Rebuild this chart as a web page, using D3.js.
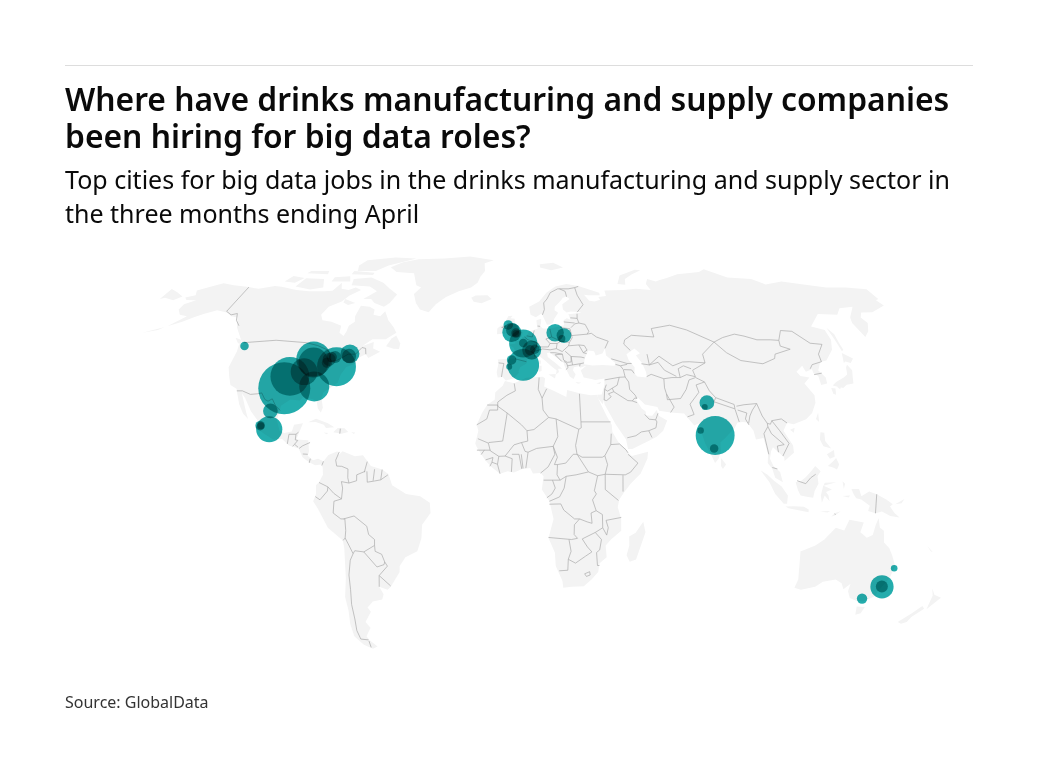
<!DOCTYPE html>
<html>
  <head>
    <meta charset="utf-8">
    <title>Big data jobs map</title>
    <style>
      html, body {
        margin: 0;
        background: #fff;
      }
      svg {
        display: block;
      }
      text {
        font-family: 'Noto Sans', sans-serif;
        fill: #0a0a0a;
      }
      .title {
        font-size: 31.8px;
        font-weight: 600;
      }
      .subtitle {
        font-size: 25px;
      }
      .source {
        font-size: 16px;
        fill: #333;
      }
      .land {
        fill: #f3f3f3;
        stroke: none;
      }
      .water {
        fill: #fff;
        stroke: none;
      }
      .border {
        fill: none;
        stroke: #aaa;
        stroke-width: .7;
      }
      .city {
        fill: #24adad;
        mix-blend-mode: multiply;
      }
    </style>
  </head>
  <body>
    <svg width="1038" height="778"></svg>
    <script src="https://d3js.org/d3.v7.min.js"></script>
    <script>
      const titleLines = [
        'Where have drinks manufacturing and supply companies',
        'been hiring for big data roles?'
      ];
      const subtitleLines = [
        'Top cities for big data jobs in the drinks manufacturing and supply sector in',
        'the three months ending April'
      ];
      const sourceText = 'Source: GlobalData';

      // cities: lon, lat, job count (all estimated off the picture)
      const cityLons = [-121.9, -97.7, -96.8, -89, -88.6, -91.4, -85.4, -78.2, -74, -74.1, -82.8, -81.5, -80, -82.3, -101.1, -100.2, -104.1, -103.8,
        -5, -3.3, -2.9, -1.4, -1.4, 1.9, 1.9, 4.9, 5.6, 7, 1.8, -3.2, -4.2, 16.5, 20.4, 19.3,
        77, 75.8, 78.4, 72.8, 77.5, 153.4, 151.4, 151.3, 145.3];
      const cityLats = [47.8, 33.4, 37.4, 43.3, 42.1, 39, 34, 40.7, 45.1, 44.4, 42.1, 44, 44, 43.2, 25.7, 19.5, 20.7, 20.7,
        55.3, 52.6, 53.5, 52.4, 52.2, 48.7, 48.9, 46.4, 46.4, 46.7, 41.3, 43, 40.7, 52.5, 51.5, 50.4,
        28.5, 27, 17.4, 19.1, 13, -27.7, -34, -33.9, -38];
      const cityJobs = [2, 75, 42, 34, 25, 20, 25, 42, 10, 5.5, 3, 3, 4, 4.7, 6, 19, 2.5, 1.4,
        2.5, 10, 5, 2.5, 1.4, 22, 2, 3, 10, 2.5, 28, 2.5, 1, 8.5, 6, 1.4,
        6, 1, 42, 1.2, 2, 1.2, 15, 4, 3];

      const northAmerica = [[-168,65.6],[-164,66.5],[-166,68.3],[-160,70.3],[-156.5,71.3],[-150,70.5],[-141,69.7],[-135,69],[-128,70.2],[-124,69.8],[-115,68.5],[-108,68],[-100,68],[-96,68.2],[-94,71.5],[-92,69],[-88,68.5],[-85,69.5],[-81.5,68.5],[-86,66.3],[-88,64],[-93,62],[-94.5,59],[-92.5,57],[-88,56.5],[-82.5,55],[-82,52.5],[-79.5,51.3],[-79,53],[-79,55],[-77,56.5],[-78,58.5],[-77.5,62.4],[-73,62],[-70,61],[-69.5,59],[-66,58.5],[-64.5,60.3],[-61.5,57],[-58,54.5],[-56,52.5],[-60,50.2],[-66,50.2],[-69.5,47.8],[-65,49.2],[-64.5,47],[-61,45.8],[-65.5,43.7],[-67,45],[-70,43.7],[-70.5,41.7],[-74,40.6],[-75.5,38],[-76,35.2],[-78,33.9],[-81,32],[-81.3,30],[-80,26.8],[-80.5,25.2],[-82,26.5],[-83,29],[-85,29.7],[-89,30.3],[-90,29.2],[-94,29.6],[-97.3,27.5],[-97.7,22.5],[-96,19],[-94,18.2],[-91,18.7],[-90.5,21],[-87,21.5],[-88,18.5],[-88.8,16],[-84,15.8],[-83.3,12],[-83.7,10.5],[-81.5,9],[-79.5,9.5],[-77.3,8.6],[-78.2,7.5],[-80.5,7.3],[-83,8.3],[-85.7,10],[-87.5,13],[-91.5,14],[-94.5,16.2],[-98,16],[-102,18],[-105.5,20],[-105.5,22.5],[-109,25.6],[-112.7,30],[-114.7,31.7],[-113,29],[-111,25.5],[-109.5,23],[-112,24.8],[-114.5,28],[-116.5,31.5],[-117.5,33.2],[-120.6,34.5],[-122.5,37.5],[-124.3,40.5],[-124,46],[-124.7,48.4],[-122.5,48],[-125,50],[-128,52.5],[-130.5,54.5],[-133.5,58],[-137,58.5],[-140,59.8],[-146,60.7],[-151,59.3],[-154,58.2],[-158,56.5],[-163,54.8],[-158,58.5],[-162,59],[-165,61],[-165,63],[-161,64.5],[-166,64.6]];
      const southAmerica = [[-77.3,8.6],[-75.5,10.8],[-72,12],[-71.5,10.7],[-70,12],[-65,10.3],[-61.8,10.7],[-58.5,7],[-54,5.8],[-51.5,4.3],[-50,0.5],[-44.5,-2.5],[-39,-3.3],[-35.2,-5.5],[-35,-9],[-38.5,-13],[-39,-17.5],[-41,-22],[-46,-24],[-48.7,-27],[-49,-29],[-53.5,-34],[-55,-35],[-58.3,-34],[-57,-36.5],[-58,-38.3],[-62.2,-39],[-65,-41],[-64,-42.5],[-67.5,-46],[-66,-48],[-69,-51],[-68.3,-52.3],[-65.5,-54.7],[-68,-55.5],[-71.5,-54],[-74.5,-51],[-74.5,-46.8],[-73.5,-42],[-73.5,-37.5],[-71.5,-31],[-70.3,-21],[-70.5,-18.3],[-76,-14],[-79.5,-7.5],[-81.2,-5],[-80,-2.5],[-80,0.5],[-78.8,1.5],[-77.3,4],[-77.5,6.5],[-78,7.5]];
      const africa = [[-5.9,35.8],[-2,35.1],[3,36.9],[10,37.3],[11,36.8],[10.5,34],[15,32.3],[19.5,30.4],[20,32.8],[25,31.7],[29.5,31],[32.3,31.2],[32.6,29.9],[33.6,27.8],[35.5,24],[37.3,21],[37.4,18.6],[39.5,15.3],[43,12],[43.3,11.5],[44.7,10.4],[51.2,11.9],[50.8,9.5],[48,4.5],[44,1],[41.5,-1.8],[39.5,-4.5],[39,-7],[40.5,-11],[40.7,-15],[36.8,-18],[34.8,-20],[35.5,-24],[32.8,-26],[32.5,-29],[30,-31.5],[27,-33.8],[22,-34],[18.5,-34.3],[18,-32],[15,-27],[14.5,-22.5],[11.8,-17.5],[13.7,-11],[12,-5],[9,-1],[9.7,3.5],[8.5,4.6],[5.5,4.5],[4.4,6.3],[1,5.9],[-2,4.8],[-4.5,5.2],[-7.5,4.4],[-11,6.8],[-13.3,9],[-15,11],[-16.8,13.5],[-17.4,14.7],[-16.3,19],[-17,21],[-15,25],[-13,27.8],[-10,29.5],[-9.8,32],[-6.8,34.2]];
      const eurasia = [[-9,37],[-9.5,38.8],[-8.8,42],[-9.2,43.2],[-4,43.5],[-1.7,43.4],[-1.2,45.5],[-2.5,47.3],[-4.7,48.3],[-1.5,48.7],[-1.7,49.6],[0.2,49.6],[1.6,50.9],[3.5,51.4],[4.7,53],[7,53.6],[8.6,53.9],[8.3,55.5],[8.2,57],[10.5,57.6],[10.3,56],[9.8,54.8],[11,54],[14,53.9],[18.5,54.7],[21,55.2],[21,57],[22.6,57.7],[24.3,57.2],[23.6,59.2],[28,59.6],[30.2,60],[25,60.2],[22.9,59.9],[21.3,61],[21.3,63],[25.3,65],[24,65.9],[22,65.5],[21,64.5],[17.5,62],[17.2,60.7],[18.8,59.8],[16.6,57.5],[16,56.2],[14.3,55.5],[13,55.4],[11.2,58.9],[10.6,59.4],[8,58.1],[5.5,59],[5,62],[10,64],[14,67.5],[19,70],[25,71],[31,70.2],[41,67.5],[41,66.5],[35,66.5],[33,66.7],[35,64.3],[37.5,64],[40.5,64.7],[40,65.8],[44,66.2],[44,68.3],[54,68.5],[60.5,69],[68,68.5],[67,71],[69,73],[73,72],[75,72.5],[80,73.5],[87,75],[100,76],[104,77.2],[113,73.7],[125,73],[130,70.8],[140,72],[150,70.8],[160,69.5],[170,69.5],[179.9,68.8],[179.9,65],[178,64.5],[179,62.5],[170,60],[164.5,59.9],[162,58],[163,56],[160,53],[156.7,51],[155.7,56],[157,58],[163,62],[156,61.5],[152,59],[143,59.3],[135.3,54.7],[140.5,53.5],[140.3,50],[138,46.5],[133,42.8],[130,42.3],[128,40],[127.5,39.5],[129.4,37],[129,35],[126.3,34.5],[126.5,37.5],[125,38.5],[125,39.8],[122,39],[121.5,41],[118,39],[119,37.5],[122.5,37],[119.5,35],[122,31],[121.5,28.5],[119,25],[116,22.9],[110.5,21.2],[108,21.7],[106,19],[109,14],[109,11.5],[105,8.7],[105,10],[102.5,12],[100.9,13.4],[100,12],[99.3,9.5],[100.5,7],[103,5],[104,1.5],[101,3],[100,6],[98.3,8],[98.7,11],[97.6,16.5],[94.5,16],[94,19],[92,21.8],[90,22],[88,21.7],[86.7,20],[82.5,16.7],[80.2,15],[80,12],[79,9.5],[77.5,8],[76,11],[74,15],[72.8,19.5],[72.5,21.5],[70.5,20.8],[69,22.5],[67,24.8],[61.5,25.2],[57,25.8],[56.5,27],[51.5,27.9],[49,30.2],[48,29.7],[50,26.5],[51.5,25.5],[51.5,24.2],[54,24.1],[56,26],[56.8,24],[59.8,22.5],[57.8,19],[55,17],[52,15.7],[45,12.8],[43.3,12.8],[42.7,16],[39,21],[35,28],[34.9,29.5],[34.3,28],[32.6,29.9],[32.3,31.2],[34.2,31.3],[35.7,34.5],[36,36.7],[32,36.2],[30.5,36.5],[27.3,37],[26.3,39.5],[29,41.1],[26.2,40.3],[26,40.9],[23.5,40.5],[23,39.5],[24,38],[23,36.5],[21.5,37.3],[19.5,41],[19.3,42],[15,44.5],[13.7,45.5],[12.3,45.4],[12.5,44],[16,41.8],[18.4,40],[16.7,40],[17,38.9],[15.7,38],[16,39.5],[14,40.8],[11,43],[8.8,44.4],[6,43],[3.5,43.3],[3.2,41.8],[0.5,40.5],[-0.3,39],[0,38.7],[-2,36.8],[-5.5,36],[-7,37.2]];
      const australia = [[113.5,-22],[114.2,-26],[115.5,-31.5],[115,-34.3],[118,-35],[123.5,-34],[126,-32.3],[131,-31.5],[134,-32.8],[135.7,-34.8],[137.8,-33],[138,-35.5],[140,-37.8],[143.5,-38.8],[146.4,-39],[150,-37.3],[150.8,-35],[153,-31],[153.5,-27],[151,-23.5],[149,-21],[146.3,-19],[145.3,-15],[143.5,-14],[142.5,-10.8],[141.7,-13],[141.2,-16.5],[139,-17.4],[136,-15.5],[136.8,-12.2],[131,-11.3],[129.5,-14.9],[126,-14],[122.2,-18],[119,-20],[114.2,-21.8]];
      const islands = [
        // chukotka east of the antimeridian, drawn at the far left
        [[-179.9,68.9],[-175,67.6],[-170,66],[-172.5,64.5],[-178,65.5],[-179.9,65]],
        // greenland and arctic canada
        [[-73,78.2],[-68,76],[-58,75.5],[-54,70.5],[-51,69.5],[-53.5,67],[-51,63.5],[-48,61],[-43.5,60],[-41,63],[-37,65.7],[-31,68],[-25,69.5],[-22,71.5],[-21,74],[-19,76.5],[-20,80],[-15,81.5],[-30,83.5],[-45,82.5],[-60,82],[-68,80.5]],
        [[-80,73.7],[-72,71.5],[-67,69],[-62,66.8],[-64,63.5],[-66,62],[-71.5,63.5],[-74,65],[-78,65],[-73,68],[-78,70],[-88,70.5],[-89,73]],
        [[-117,70],[-108,68.7],[-102,69.5],[-105,73],[-115,73.3]],
        [[-125,72],[-123,74.3],[-116,73.5],[-119,71.5]],
        [[-117,75.5],[-105,75],[-106,76.5],[-116,76.5]],
        [[-90,76.5],[-80,76.5],[-75,79],[-65,81.5],[-62,82.5],[-75,83],[-90,81.5],[-92,79]],
        [[-92,75],[-80,74.7],[-80,75.7],[-92,76.5]],
        [[-100,72],[-90,72],[-92,74.2],[-100,73.8]],
        [[-87,65],[-81,63.5],[-84,62.7],[-87,63.7]],
        [[-59,47.7],[-55.5,46.9],[-53,46.8],[-53,48.7],[-55.7,51.5],[-57.5,50.5]],
        [[-128,50.7],[-125,50],[-123.5,48.4],[-125.5,48.8]],
        [[-172,52.5],[-166,53.5],[-164,54.6],[-166,54]],
        // caribbean
        [[-85,21.9],[-82,23.1],[-77,21.5],[-74.2,20.2],[-77.5,19.9],[-78.5,21],[-82,22]],
        [[-74.4,18.5],[-72.8,19.9],[-70,19.8],[-68.4,18.6],[-71,18]],
        [[-78.3,18.4],[-76.3,18.2],[-77,17.8]],
        [[-67.2,18.5],[-65.6,18.4],[-66,17.9]],
        // europe
        [[-24,65.5],[-22,66.4],[-16,66.5],[-13.7,65],[-18.5,63.4],[-22.5,63.9]],
        [[-5.7,50],[-3,50.6],[1.3,51.2],[1.7,52.7],[0,53.5],[-1.5,55],[-2,56],[-2,57.6],[-4,57.7],[-3,58.7],[-5,58.6],[-6.2,56.7],[-4.8,55],[-3,54],[-4.5,53.3],[-4.5,52.2],[-5.2,51.8],[-3,51.3]],
        [[-10,52],[-6.3,52.2],[-6,54],[-6,55.2],[-8.3,55.1],[-10,54]],
        [[8.6,42.9],[9.5,42.8],[9.3,41.5],[8.7,41.6]],
        [[8.3,41],[9.7,41],[9.6,39.2],[8.5,39]],
        [[12.5,38],[15.6,38.2],[15.2,36.7]],
        [[23.6,35.5],[26.2,35.2],[24.7,34.9]],
        [[32.4,35],[34.5,35.6],[33.8,34.8]],
        [[12,78],[18,76.8],[25,78],[20,80.3],[12,79.5]],
        [[52,71],[56,70.7],[57,73],[68,76.8],[65,77],[55,74.5]],
        // asia
        [[142,54.3],[143.5,52],[143,49],[143,46.5],[142,46],[142,50]],
        [[131,34.3],[135,33.5],[137,34.6],[140,35],[141,37.5],[142,39.5],[141,41.4],[140,40.5],[139,38],[137,37],[133,35.5]],
        [[140,42],[141.5,45.4],[145,43.5],[143,42],[141,42.5]],
        [[130,33.5],[131.7,33.3],[131,31.2],[130,31.5]],
        [[132.5,34],[134.5,34.2],[133.5,33]],
        [[120,23],[121.5,25.2],[121,22]],
        [[108.7,19.3],[110.7,20],[110,18.3]],
        [[120,16],[120.7,18.5],[122.2,18.3],[122,15.5],[124,13],[121,13.7]],
        [[122,7],[124,8.5],[125.5,9.7],[126.5,7.5],[125.5,5.8],[124,6.5]],
        [[122,11],[125,12.5],[125,10.2],[123,9.5]],
        [[79.8,8],[80,9.7],[81.8,7.5],[80.5,6],[79.8,7]],
        [[109,1.5],[111,1.8],[113,3.2],[115,5],[117,7],[119,5.2],[117.7,3.5],[118,1],[116.5,-1.5],[116,-3.8],[114,-3.5],[111,-3],[110,-1.3]],
        [[95.3,5.6],[98,4],[100.5,2],[103.5,0],[106,-3],[105.8,-5.8],[104.5,-5.8],[101,-2.5],[98.7,1.5]],
        [[105.2,-6.8],[108.5,-6.7],[112.5,-6.9],[114.5,-7.8],[114.5,-8.7],[110,-8],[106.5,-7.4]],
        [[119.5,-5.5],[120.5,-3],[122.5,-5],[122,-3],[121,-1.8],[123.3,-1],[120,0.3],[125,1.5],[120.5,1.3],[119.8,0],[119,-3]],
        [[131,-0.8],[134,-0.8],[135,-3.3],[138,-1.7],[141,-2.6],[145,-4.5],[147.5,-6],[146.5,-6.8],[148.5,-9],[150.7,-10.5],[147,-10],[143.5,-8.5],[141,-9.1],[138,-8.3],[138.5,-6.5],[135,-4.4],[133,-4],[132,-2.8]],
        [[123.6,-10.3],[125,-9],[127.2,-8.4],[125,-9.8]],
        [[119,-8.5],[123,-8.3],[122,-8.8]],
        [[127.5,-3.2],[130.5,-3],[130,-3.7]],
        [[127.5,1.8],[128.5,1],[128,-0.8]],
        [[148.5,-6],[152,-4.2],[151,-5.7]],
        // southern hemisphere
        [[144.7,-40.7],[148.3,-40.9],[148,-43],[146,-43.5]],
        [[172.7,-34.5],[175,-36.7],[178.5,-37.7],[177,-39.5],[175.3,-41.6],[174.8,-39],[174.5,-37]],
        [[172.7,-40.5],[174.2,-41.5],[171,-44.3],[170.5,-46],[168.5,-46.6],[166.5,-46],[170,-43.2]],
        [[164,-20.2],[167,-22.3],[166,-22]],
        [[49.3,-12],[50.4,-15.5],[47.5,-24.8],[45,-25.5],[43.5,-23.3],[44.3,-20],[44,-17],[46.5,-15.7]]
      ];
      const inlandSeas = [
        [[47,45],[51,47],[53,45.3],[51,44.5],[53,42],[54,39],[54,37],[50,37.4],[49,38.4],[49.5,40.5],[47.5,43]],
        [[28,41.5],[28.5,43.5],[30.5,46.3],[33,46],[33.5,44.5],[36.5,45.2],[38,47],[38,44.5],[41.5,42],[41,41],[36,41.3],[31.5,41.1]]
      ];

      const americasBorders = [
        [[-123,49],[-95.2,49],[-89.5,48],[-84.5,46.5],[-82.5,45],[-82.5,42.5],[-79,42.8],[-76.5,44],[-74.7,45],[-71.5,45],[-69.5,47.3],[-67.8,47],[-67,45]],
        [[-141,69.7],[-141,60.3],[-137.5,59],[-135,59.5],[-133,57],[-130,55]],
        [[-117.1,32.5],[-114.8,32.5],[-111,31.3],[-108.2,31.5],[-106.5,31.8],[-104.5,29.6],[-103,29],[-101.5,29.8],[-99.5,27.5],[-97.2,25.9]],
        [[-92.2,14.5],[-92,17.8],[-89.2,17.8],[-88.3,18.5]],
        [[-89.2,17.8],[-89.2,15.9],[-88.2,15.7],[-89.3,14.4],[-90,13.7]],
        [[-83.2,15],[-86,13.9],[-87.3,13]],
        [[-89.3,14.4],[-87.8,13.4]],
        [[-83.7,11],[-85.7,11.1]],
        [[-82.6,9.5],[-82.9,8.1]],
        [[-77.3,8.6],[-77.9,7.2]],
        [[-71.7,19.7],[-71.7,18]],
        [[-71.3,11.8],[-72.5,9],[-72,7],[-70,6.9],[-67.5,6],[-67.5,3],[-67,1.2],[-70,1.7],[-69.5,-0.5],[-70,-4.2],[-73,-2.3],[-75.3,-0.1],[-78.8,1.4]],
        [[-75.3,-0.1],[-75.5,-1.5],[-78.5,-4.5],[-80.3,-3.4]],
        [[-70,-4.2],[-73,-5],[-73.5,-9],[-70.6,-11],[-69,-11],[-69,-15],[-69.5,-17.5],[-70.4,-18.3]],
        [[-69.5,-11],[-65.3,-10],[-60.5,-13.5],[-60,-16.3],[-57.8,-18],[-58,-20],[-62.6,-22.2],[-66.2,-21.8],[-67,-22.8]],
        [[-69.5,-17.5],[-68.5,-19.5],[-67,-22.8],[-68.5,-25],[-70,-30],[-70.5,-35],[-71.5,-40],[-71.8,-45],[-72.5,-49],[-72,-52],[-68.6,-52.3]],
        [[-68.6,-52.7],[-68.6,-55]],
        [[-62.6,-22.2],[-58,-27.3],[-55,-26.5],[-54.6,-25.6]],
        [[-58,-20],[-58,-22],[-55.5,-23],[-54.6,-25.6],[-53.7,-27],[-57.6,-30.2],[-58.3,-34]],
        [[-57.6,-30.2],[-53.5,-33.7]],
        [[-60,8.5],[-61,5],[-60.7,5.2],[-64,4],[-64,2],[-67,1.2]],
        [[-60,5.2],[-59.8,1.5],[-57,1.9],[-54.5,2.3],[-51.7,4]],
        [[-57,5.9],[-57.5,2]],
        [[-54,5.8],[-54.5,2.3]]
      ];
      const africaBorders = [
        [[-2,35],[-1.5,32.5],[-5,31],[-8.7,28.7],[-8.7,27.3],[-4.8,25],[-6.5,15.5],[-12,15],[-12.2,14.8],[-16.4,16.3]],
        [[-13,27.7],[-8.7,27.7],[-8.7,26],[-12,26],[-13,23],[-17,21]],
        [[-4.8,25],[1,21],[3.2,19],[6,19.4],[12,23.5],[9.8,26],[9.5,30],[8,33],[8.5,37]],
        [[9.5,30],[11.5,33.2]],
        [[12,23.5],[15,23],[24,19.5],[25,20],[25,31.5]],
        [[25,22],[36.9,22]],
        [[24,19.5],[22.5,14],[23,11]],
        [[3.2,19],[3.5,15.5],[1,15],[-2,14.2],[-5.5,10.4],[-8,10.3],[-11.4,12.2],[-12.2,14.8]],
        [[-11.4,12.4],[-16.7,12.4]],
        [[-13.7,12.5],[-15,10.9]],
        [[-13.2,9.1],[-10.3,9.9],[-10.7,8.3],[-11.5,6.9]],
        [[-10.7,8.3],[-8.5,7.6],[-7.5,4.4]],
        [[-8.5,7.6],[-8,10.3]],
        [[-3,5],[-2.7,9.5],[-5.5,10.4]],
        [[-2.8,11],[0,11],[1.1,6]],
        [[1.6,6.2],[0.9,11]],
        [[2.7,6.3],[3.6,11.7],[7,13],[13.6,13.7]],
        [[1,15],[2.4,12],[3.6,11.7]],
        [[15,23],[15.5,17],[13.6,13.7],[14.2,11],[11.5,6.7],[8.5,4.6]],
        [[13.6,13.7],[15.2,10],[14,7.5],[15.2,7.5],[18.5,8],[21.5,11],[23,11],[27.4,5],[31,3.7],[34,4.2]],
        [[15.2,7.5],[15,4],[16.2,2.2],[18.6,3.5],[22.5,4],[27.4,5]],
        [[23,11],[25,10],[33,10],[34,10.5],[35,7.5],[34,4.2],[41.9,4],[44,4.9],[47,8],[43.2,11]],
        [[34,10.5],[36.5,14.3],[36.9,18]],
        [[36.5,14.3],[40,14.5],[42.5,12.5],[43.2,11.5]],
        [[41,3.9],[41,-1.7]],
        [[34,4.2],[34,-1],[39.2,-4.7]],
        [[31,3.7],[29.7,-1.4],[30.5,-2.5],[29,-4.5],[30.5,-8.2],[33,-9.5],[33.3,-14],[35,-16.5],[35.5,-14],[34.5,-11.5],[40.5,-10.5]],
        [[30.5,-8.2],[28.5,-9],[29,-12.5],[27,-12],[24,-11],[22,-11],[17.7,-8],[16.5,-5.9],[12,-6]],
        [[24,-11],[22,-13],[22,-16.3],[23.4,-17.6],[21,-18],[11.8,-17.3]],
        [[20,-18],[21,-22],[20,-24.7],[20,-28.4],[16.5,-28.6]],
        [[20,-24.7],[23,-26],[27,-23.6],[29.4,-22.2],[27.5,-20.5],[25.3,-17.8],[30.4,-15.6],[33,-18],[32.5,-21.5],[31.3,-22.4],[32,-26.8],[32.8,-26.8]],
        [[30.4,-15.6],[33.3,-14]],
        [[27,-29.6],[29,-28.9],[29.3,-30],[27.8,-30.5],[27,-29.6]],
        [[9.7,2.2],[13.2,2.2],[14.3,-0.5],[13,-2.5],[11,-3.8]],
        [[13.2,2.2],[16.2,2.2]],
        [[12,-5],[16,-3.5],[17.8,-0.5],[18.6,3.5]]
      ];
      const europeBorders = [
        [[-1.7,43.4],[3.2,42.4]],
        [[-8.8,42],[-6.5,41.8],[-7,39.5],[-7.4,37.2]],
        [[2.5,51],[4,50],[6,49.5],[8.2,49],[7.6,47.6],[6,46.3],[7,44]],
        [[7.6,47.6],[9.6,47.5],[13,47.5],[13.8,48.7],[17,48.7],[18.8,49.5],[22.6,49.1],[24,50.7],[23.5,53.9],[19,54.4]],
        [[3.5,51.4],[6,51],[7,53.3]],
        [[8.6,54.9],[9.8,54.8]],
        [[14.2,53.9],[14.8,51],[18.8,49.5]],
        [[14.8,51],[12.1,50.3],[13.8,48.7]],
        [[7,46],[10.4,46.8],[13.7,46.5],[16.5,46.9],[17,48.7]],
        [[16.5,46.9],[19,45.9],[22,47.9],[22.6,49.1]],
        [[22,47.9],[26.6,48.2],[28.2,45.5],[29.6,45.2]],
        [[20.3,46],[22.7,44.2],[27,44],[28.5,43.7]],
        [[22.7,44.2],[23,41.3],[26.3,41.7],[28,42]],
        [[26.3,41.7],[26,40.8]],
        [[13.7,45.5],[15.7,45.5],[19,45],[19.3,43],[20.8,42.2],[22.5,42.3],[22.7,44.2]],
        [[19,45],[15.8,44.8],[18.5,42.5]],
        [[19.4,42.5],[20.5,42],[21,40.4],[20,39.7]],
        [[20.8,41],[23,41.3]],
        [[38,47],[40,49.5],[35,51],[33,52.3],[31,52],[24,51.5]],
        [[31,52],[32,53],[30.8,55.5],[28,56],[26,55.7],[24,54.3]],
        [[28,56],[27.5,57.7],[27.8,59.4]],
        [[21,56.4],[26,56]],
        [[24.3,57.9],[27.5,57.7]],
        [[26.6,48.2],[29,48],[30,46.4],[28.2,45.5]],
        [[11.2,59],[12.3,61],[12.2,63.5],[14,65],[16,67.5],[20,69],[21,69],[25.5,69],[29,69.5],[31,70]],
        [[24,65.9],[23.7,68],[21,69]],
        [[28,60],[31.5,62.8],[29.5,66.5],[29,69.5]],
        [[-6,55],[-8,54.4],[-6.3,54.1]]
      ];
      const asiaBorders = [
        [[36,36.2],[42.3,37.1],[44.8,37.2],[44.5,39.7],[43.5,41],[41.5,41.5]],
        [[40,43.4],[46.5,41.8],[48.5,41.8]],
        [[43.5,41],[46.5,41.5]],
        [[44.8,39.7],[48,39.6],[48.9,38.4]],
        [[42.3,37.1],[41,34.4],[38.8,33.4],[39.3,32.2],[37,31.5],[38,30.5],[36,29.2],[35,29.4],[35.6,33],[36.8,32.4],[38.8,33.4]],
        [[35.6,33],[36.5,34.6]],
        [[39.3,32.2],[44.7,29.2],[46.5,29.1],[48.4,28.5]],
        [[46.5,29.1],[47.7,30.1],[48.5,29.9],[48,31],[46,33],[46,35.5],[44.8,37.2]],
        [[51,24.5],[52.6,22.9],[55.2,22.7],[55.6,22],[55,20],[52,19],[49,18.6],[46.7,17.3],[43.2,16.6]],
        [[52,19],[53.1,16.7]],
        [[55.2,22.7],[56.4,24.9]],
        [[53.9,37.3],[56,38.1],[61,36.6],[60.6,33.5],[61,31.4],[63.3,27],[61.6,25.2]],
        [[61,31.4],[61,29.5],[66.5,29.9],[69.5,33],[71.5,36.2],[74.5,37]],
        [[61,36.6],[64.5,37],[68,37],[71,38],[74.5,37.3]],
        [[68.2,23.7],[71,24.5],[70,28],[74.5,32],[74,34.5],[77.8,35.5],[74.5,37]],
        [[77.8,35.5],[79,32.5],[81,30.2],[80,28.8],[88,26.4],[88,27.9],[81,30.2]],
        [[88.8,27.3],[92,27.8],[97.3,28.2],[98.5,24],[100,21.5],[101.2,21.2],[102,22.4],[106,23],[108,21.6]],
        [[88,26.3],[88.8,22]],
        [[89,26],[92.5,25],[91.5,23],[92.5,21]],
        [[92.5,21.5],[93.5,24],[95,26],[97.3,28.2]],
        [[100,21.5],[100,20.4],[98,18],[99,11]],
        [[100,20.4],[101,18],[105.5,14.3],[102.7,13.8],[102.9,11.7]],
        [[102,22.4],[104.5,19],[107.5,14.7],[104.5,10.4]],
        [[100,6.5],[102,6]],
        [[47.5,50],[51,51.6],[61,51],[61,54],[70,55.2],[77,53.5],[87.3,49.2],[80.3,45],[80.2,42],[74,39.5],[74.5,37.3]],
        [[47.5,50],[46.7,48.5],[49,46.3]],
        [[56,45],[56,41.3],[61,44.3],[66,41],[70.5,42.3],[73.5,42.4],[80.2,42]],
        [[52.7,41.7],[56,41.3],[60,42.2],[62,39.5],[66.5,37.4]],
        [[73.5,40],[70.5,41]],
        [[68,37],[68,40],[70.5,41]],
        [[87.3,49.2],[92,50.8],[98,52],[102,51.3],[107,50],[113,50],[116.7,49.8],[120,53.3],[125,53],[130,48.8],[135,48.4],[131,45],[130.6,42.4],[126,41.4],[124.4,40]],
        [[87.3,49.2],[91,45.5],[96,42.8],[105,41.7],[111,43.5],[112,45],[119.7,46.7],[116,47.8],[116.7,49.8]],
        [[125,38],[128.5,38.5]],
        [[141,-2.6],[141,-9.1]],
        [[124.9,-9.2],[125.2,-9.6]],
        [[109.6,2],[113,1],[115,3],[117,4.2]]
      ];

      const svg = d3.select('svg');

      svg.append('line')
        .attr('x1', 65).attr('x2', 973)
        .attr('y1', 65.5).attr('y2', 65.5)
        .attr('stroke', '#ddd');

      svg.selectAll('text.title')
        .data(titleLines)
        .enter().append('text')
          .attr('class', 'title')
          .attr('x', 65)
          .attr('y', (d, i) => 111 + i * 37)
          .text(d => d);

      svg.selectAll('text.subtitle')
        .data(subtitleLines)
        .enter().append('text')
          .attr('class', 'subtitle')
          .attr('x', 65)
          .attr('y', (d, i) => 189 + i * 34)
          .text(d => d);

      svg.append('text')
        .attr('class', 'source')
        .attr('x', 65)
        .attr('y', 708)
        .text(sourceText);

      const projection = d3.geoNaturalEarth1()
        .scale(167)
        .translate([519, 486.6]);
      const path = d3.geoPath(projection);

      // rings typed by hand, so fix the closing point and the winding for d3-geo
      const polygon = (ring) => {
        const closed = ring.concat([ring[0]]);
        const feature = {type: 'Polygon', coordinates: [closed]};
        if (d3.geoArea(feature) > 2 * Math.PI) closed.reverse();
        return feature;
      };

      const map = svg.append('g');

      map.selectAll('path.land')
        .data([northAmerica, southAmerica, africa, eurasia, australia, ...islands].map(polygon))
        .enter().append('path')
          .attr('class', 'land')
          .attr('d', path);

      map.selectAll('path.water')
        .data(inlandSeas.map(polygon))
        .enter().append('path')
          .attr('class', 'water')
          .attr('d', path);

      map.append('path')
        .attr('class', 'border')
        .attr('d', path({
          type: 'MultiLineString',
          coordinates: [...americasBorders, ...africaBorders, ...europeBorders, ...asiaBorders]
        }));

      const radius = d3.scaleSqrt()
        .domain([0, d3.max(cityJobs)])
        .range([0, 26]);

      const cities = cityJobs.map((jobs, i) => ({jobs, lon: cityLons[i], lat: cityLats[i]}));

      map.selectAll('circle')
        .data(cities.sort((a, b) => b.jobs - a.jobs))
        .enter().append('circle')
          .attr('class', 'city')
          .attr('cx', d => projection([d.lon, d.lat])[0])
          .attr('cy', d => projection([d.lon, d.lat])[1])
          .attr('r', d => radius(d.jobs));
    </script>
  </body>
</html>
